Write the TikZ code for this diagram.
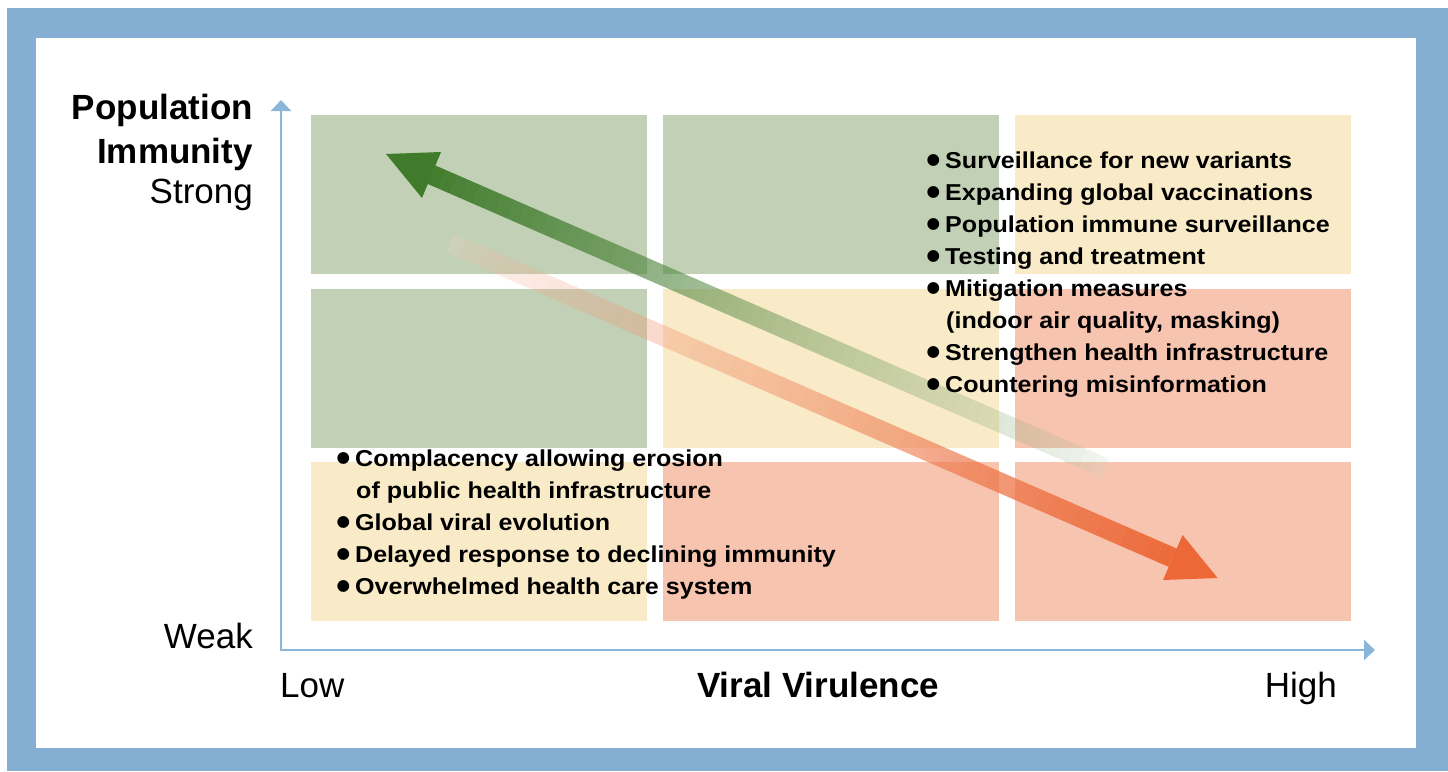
\documentclass[tikz,border=0pt]{standalone}
\usepackage{fontspec}
\setmainfont{Liberation Sans}
\newfontfamily\listfont{Liberation Sans}[FakeStretch=1.09]
\newfontfamily\symfont{DejaVu Sans}
\usetikzlibrary{calc,arrows.meta}
\definecolor{frameblue}{HTML}{84AFD3}
\definecolor{axisblue}{HTML}{8AB6DA}
\definecolor{cellgreen}{HTML}{C2D0B6}
\definecolor{cellyellow}{HTML}{F9EBC8}
\definecolor{cellsalmon}{HTML}{F7C4AF}
\definecolor{arrgreen}{HTML}{3F7B2B}
\definecolor{arrorange}{HTML}{EC6837}
\begin{document}
\begin{tikzpicture}[x=1pt,y=-1pt,
  lab/.style={inner sep=0pt, font=\fontsize{35}{40}\selectfont},
  blab/.style={inner sep=0pt, font=\fontsize{35}{40}\selectfont\bfseries},
  item/.style={inner sep=0pt, anchor=base west, font=\listfont\fontsize{23}{32}\selectfont\bfseries},
  bul/.style={inner sep=0pt, anchor=center, font=\symfont\fontsize{15.5}{15.5}\selectfont},
  axis/.style={axisblue, line width=2.2pt, line join=miter, >={Triangle[width=20pt,length=11pt]}},
  shaft/.style={line width=20pt}]
\useasboundingbox (0,0) rectangle (1448,771);
\fill[white] (0,0) rectangle (1448,771);
\fill[frameblue] (7,8) rectangle (1448,771);
\fill[white] (36,38) rectangle (1416,748);
% cells
\fill[cellgreen]  (311,115) rectangle (647,274);
\fill[cellgreen]  (663,115) rectangle (999,274);
\fill[cellyellow] (1015,115) rectangle (1351,274);
\fill[cellgreen]  (311,289) rectangle (647,448);
\fill[cellyellow] (663,289) rectangle (999,448);
\fill[cellsalmon] (1015,289) rectangle (1351,448);
\fill[cellyellow] (311,462) rectangle (647,621);
\fill[cellsalmon] (663,462) rectangle (999,621);
\fill[cellsalmon] (1015,462) rectangle (1351,621);
% axes
\coordinate (origin) at (281,650);
\coordinate (ytip) at (281,100);
\coordinate (xtip) at (1375,650);
\draw[axis, <->] (ytip) -- (origin) -- (xtip);
% orange arrow
\coordinate (otail) at (450,243);
\coordinate (obase) at (1172.8,557.5);
\coordinate (otip) at (1217.6,578);
\coordinate (oc1) at (1182.6,535);
\coordinate (oc2) at (1163,580);
\coordinate (oend) at ($(obase)!0.25!(otip)$);
\foreach \k in {0,...,59}{
  \pgfmathsetmacro\fa{\k/60}
  \pgfmathsetmacro\fb{(\k+1)/60}
  \pgfmathsetmacro\pct{100*((\k+0.5)/60)^0.25}
  \pgfmathsetmacro\op{0.22+0.78*((\k+0.5)/60)^1.5}
  \colorlet{segc}{arrorange!\pct!white}
  \draw[segc, shaft, draw opacity=\op] ($(otail)!\fa!(oend)$) -- ($(otail)!\fb!(oend)$);
}
\fill[arrorange] (otip) -- (oc1) -- (oc2) -- cycle;
% green arrow
\coordinate (gtail) at (1105,468);
\coordinate (gbase) at (431.5,175);
\coordinate (gtip) at (386,154);
\coordinate (gc1) at (441,152);
\coordinate (gc2) at (422,198);
\coordinate (gend) at ($(gbase)!0.25!(gtip)$);
\foreach \k in {0,...,59}{
  \pgfmathsetmacro\fa{\k/60}
  \pgfmathsetmacro\fb{(\k+1)/60}
  \pgfmathsetmacro\pct{100*((\k+0.5)/60)^0.25}
  \pgfmathsetmacro\op{0.22+0.78*((\k+0.5)/60)^1.5}
  \colorlet{segc}{arrgreen!\pct!white}
  \draw[segc, shaft, draw opacity=\op] ($(gtail)!\fa!(gend)$) -- ($(gtail)!\fb!(gend)$);
}
\fill[arrgreen] (gtip) -- (gc1) -- (gc2) -- cycle;
% axis labels
\node[blab, anchor=base east] (pop) at (253,119) {Population};
\node[blab, anchor=base east] (imm) at (253,163) {Immunity};
\node[lab, anchor=base east] (strong) at (253,203) {Strong};
\node[lab, anchor=base east] (weak) at (253,648) {Weak};
\node[lab, anchor=base west] (low) at (280,697) {Low};
\node[blab, anchor=base] (vir) at (818,697) {Viral Virulence};
\node[lab, anchor=base east] (high) at (1337,697) {High};
% upper-right list
\node[bul] (ub1) at (933.5,160) {●};
\node[item] (ut1) at (945,168) {Surveillance for new variants};
\node[bul] (ub2) at (933.5,192) {●};
\node[item] (ut2) at (945,200) {Expanding global vaccinations};
\node[bul] (ub3) at (933.5,224) {●};
\node[item] (ut3) at (945,232) {Population immune surveillance};
\node[bul] (ub4) at (933.5,256) {●};
\node[item] (ut4) at (945,264) {Testing and treatment};
\node[bul] (ub5) at (933.5,288) {●};
\node[item] (ut5) at (945,296) {Mitigation measures};
\node[item] (ut5b) at (946,328) {(indoor air quality, masking)};
\node[bul] (ub6) at (933.5,352) {●};
\node[item] (ut6) at (945,360) {Strengthen health infrastructure};
\node[bul] (ub7) at (933.5,384) {●};
\node[item] (ut7) at (945,392) {Countering misinformation};
% lower-left list
\node[bul] (lb1) at (343.5,458) {●};
\node[item] (lt1) at (355,466) {Complacency allowing erosion};
\node[item] (lt1b) at (356,498) {of public health infrastructure};
\node[bul] (lb2) at (343.5,522) {●};
\node[item] (lt2) at (355,530) {Global viral evolution};
\node[bul] (lb3) at (343.5,554) {●};
\node[item] (lt3) at (355,562) {Delayed response to declining immunity};
\node[bul] (lb4) at (343.5,586) {●};
\node[item] (lt4) at (355,594) {Overwhelmed health care system};
\end{tikzpicture}
\end{document}
